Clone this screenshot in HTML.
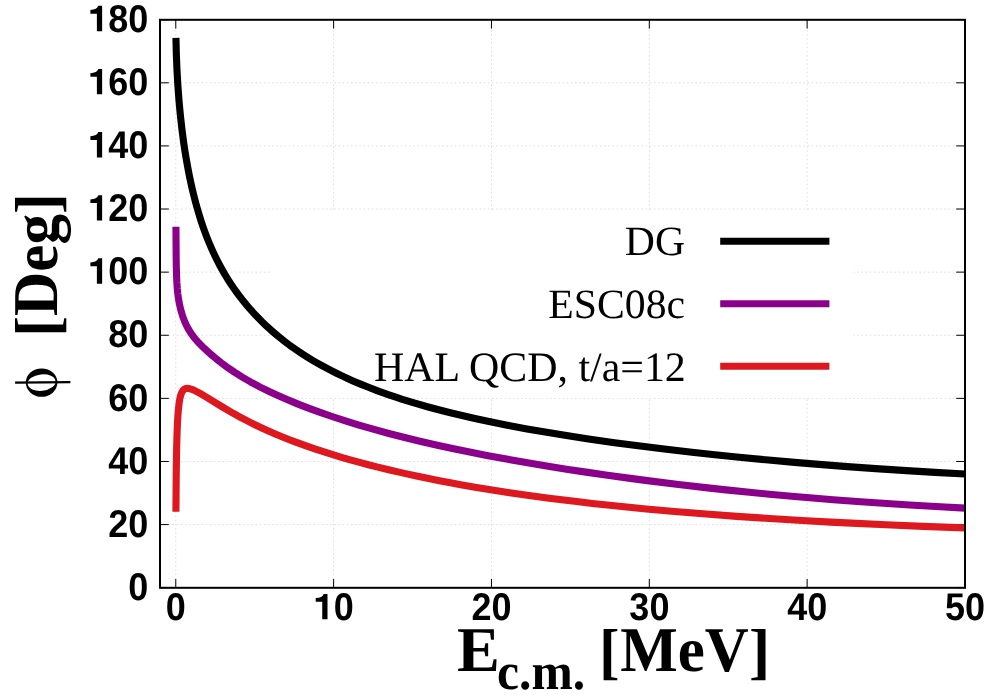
<!DOCTYPE html>
<html><head><meta charset="utf-8"><title>phase shift</title>
<style>
html,body{margin:0;padding:0;background:#fff;}
body{width:1000px;height:700px;overflow:hidden;font-family:"Liberation Sans",sans-serif;}
svg{display:block;will-change:transform;}
text{text-rendering:geometricPrecision;}
.tk{font-family:"Liberation Sans",sans-serif;font-weight:bold;font-size:36px;fill:#000;}
.lg{font-family:"Liberation Serif",serif;font-size:41.7px;fill:#000;}
.ax{font-family:"Liberation Serif",serif;font-weight:bold;font-size:62px;fill:#000;}
.sb{font-family:"Liberation Serif",serif;font-weight:bold;font-size:50px;fill:#000;}
</style></head><body>
<svg width="1000" height="700" viewBox="0 0 1000 700">
<rect x="0" y="0" width="1000" height="700" fill="#ffffff"/>
<path d="M175.78 587.80 V19.80 M333.62 587.80 V19.80 M491.46 587.80 V19.80 M649.30 587.80 V19.80 M807.14 587.80 V19.80 M160.00 524.59 H965.00 M160.00 461.48 H965.00 M160.00 398.37 H965.00 M160.00 335.26 H965.00 M160.00 272.14 H965.00 M160.00 209.03 H965.00 M160.00 145.92 H965.00 M160.00 82.81 H965.00" fill="none" stroke="#e0e0e0" stroke-width="1" stroke-dasharray="1.7 2.45"/>
<rect x="270" y="209.9" width="583.6" height="188.1" fill="#ffffff"/>
<path d="M175.78 587.80 v-8.80 M175.78 19.80 v8.80 M333.62 587.80 v-8.80 M333.62 19.80 v8.80 M491.46 587.80 v-8.80 M491.46 19.80 v8.80 M649.30 587.80 v-8.80 M649.30 19.80 v8.80 M807.14 587.80 v-8.80 M807.14 19.80 v8.80 M964.98 587.80 v-8.80 M964.98 19.80 v8.80 M160.00 587.70 h8.80 M965.00 587.70 h-8.80 M160.00 524.59 h8.80 M965.00 524.59 h-8.80 M160.00 461.48 h8.80 M965.00 461.48 h-8.80 M160.00 398.37 h8.80 M965.00 398.37 h-8.80 M160.00 335.26 h8.80 M965.00 335.26 h-8.80 M160.00 272.14 h8.80 M965.00 272.14 h-8.80 M160.00 209.03 h8.80 M965.00 209.03 h-8.80 M160.00 145.92 h8.80 M965.00 145.92 h-8.80 M160.00 82.81 h8.80 M965.00 82.81 h-8.80 M160.00 19.70 h8.80 M965.00 19.70 h-8.80" fill="none" stroke="#000" stroke-width="1"/>
<path d="M175.94 37.94 L176.32 53.60 L176.92 68.68 L177.78 84.11 L178.94 99.91 L180.40 115.66 L182.01 129.95 L183.67 142.49 L184.93 150.97 L185.88 156.85 L188.17 169.69 L189.35 175.70 L190.85 182.82 L192.27 189.11 L193.69 195.01 L195.19 200.88 L196.69 206.41 L199.53 216.08 L201.03 220.81 L203.24 227.37 L204.74 231.57 L206.87 237.22 L209.08 242.72 L211.29 247.91 L213.42 252.63 L215.63 257.27 L217.84 261.68 L220.13 266.02 L222.18 269.74 L224.71 274.11 L227.87 279.29 L230.23 282.98 L233.39 287.68 L236.55 292.14 L238.92 295.35 L242.07 299.46 L246.02 304.34 L249.96 308.97 L255.49 315.06 L261.80 321.53 L265.75 325.33 L269.69 328.96 L272.85 331.76 L277.59 335.78 L280.74 338.35 L284.69 341.45 L289.42 345.01 L294.16 348.41 L302.05 353.75 L307.58 357.27 L311.52 359.68 L316.26 362.47 L320.99 365.15 L325.73 367.73 L330.46 370.21 L335.99 373.00 L341.51 375.67 L348.61 378.95 L354.14 381.39 L361.24 384.39 L365.98 386.31 L377.03 390.57 L388.07 394.54 L394.39 396.69 L402.28 399.27 L414.91 403.16 L429.11 407.22 L442.53 410.79 L450.42 412.78 L459.89 415.07 L474.89 418.50 L489.09 421.55 L507.24 425.20 L526.97 428.89 L546.70 432.33 L568.01 435.80 L588.53 438.93 L614.58 442.64 L638.25 445.79 L664.29 449.04 L691.92 452.26 L714.80 454.76 L739.27 457.27 L768.47 460.06 L794.51 462.37 L822.13 464.65 L847.39 466.59 L875.80 468.62 L902.63 470.40 L934.99 472.38 L964.98 474.06" fill="none" stroke="#000000" stroke-width="7.1" stroke-linejoin="round" stroke-linecap="butt"/>
<path d="M175.94 226.66 L176.17 258.19 L176.32 266.92 L176.58 276.13 L176.88 282.68 L177.33 289.07 L177.82 293.87 L178.49 298.75 L179.54 304.51 L180.75 309.69 L182.25 314.86 L183.04 317.20 L184.22 320.34 L185.09 322.42 L186.43 325.32 L188.64 329.48 L191.01 333.27 L192.35 335.18 L193.69 336.95 L195.35 338.99 L197.40 341.34 L199.69 343.79 L202.61 346.72 L205.45 349.42 L208.37 352.08 L212.00 355.27 L215.71 358.39 L221.47 362.97 L224.71 365.41 L228.66 368.26 L234.97 372.55 L239.71 375.57 L242.86 377.49 L250.75 382.04 L254.70 384.19 L260.22 387.08 L269.69 391.75 L276.80 395.05 L287.06 399.55 L295.74 403.15 L301.26 405.35 L309.15 408.38 L319.41 412.14 L332.04 416.52 L344.67 420.65 L358.09 424.79 L372.29 428.93 L388.86 433.47 L404.65 437.53 L418.85 440.99 L436.22 444.99 L453.58 448.76 L470.94 452.33 L486.72 455.42 L506.45 459.09 L524.61 462.30 L545.13 465.75 L566.43 469.15 L587.74 472.38 L607.47 475.23 L630.36 478.38 L649.30 480.87 L678.50 484.51 L707.70 487.90 L725.85 489.88 L749.53 492.32 L769.26 494.23 L794.51 496.52 L812.66 498.06 L833.18 499.71 L860.81 501.77 L886.85 503.56 L909.74 505.02 L935.78 506.56 L964.98 508.14" fill="none" stroke="#8b008b" stroke-width="7.1" stroke-linejoin="round" stroke-linecap="butt"/>
<path d="M175.94 511.84 L176.21 475.49 L176.47 456.89 L176.73 444.35 L177.07 432.81 L177.48 423.00 L177.93 415.33 L178.42 409.25 L179.09 403.33 L179.73 399.37 L180.10 397.59 L180.59 395.66 L181.07 394.16 L181.54 392.94 L182.09 391.80 L182.72 390.79 L183.28 390.10 L183.91 389.50 L184.70 388.97 L185.49 388.63 L186.20 388.45 L187.54 388.36 L188.72 388.48 L189.43 388.62 L191.72 389.31 L194.72 390.57 L198.19 392.33 L200.96 393.87 L204.51 395.96 L222.26 406.89 L232.60 412.95 L240.49 417.31 L244.44 419.40 L250.75 422.63 L255.49 424.96 L261.80 427.95 L267.33 430.47 L275.22 433.91 L280.74 436.22 L289.42 439.69 L295.74 442.11 L307.58 446.40 L315.47 449.11 L322.57 451.45 L332.04 454.44 L341.51 457.29 L349.40 459.57 L359.66 462.41 L368.34 464.71 L377.82 467.12 L389.65 470.00 L396.76 471.66 L407.80 474.15 L416.49 476.03 L427.53 478.33 L439.37 480.69 L450.42 482.80 L460.68 484.68 L476.47 487.43 L487.51 489.26 L509.61 492.70 L532.50 495.98 L549.07 498.19 L561.70 499.79 L576.69 501.60 L592.48 503.41 L614.58 505.79 L646.14 508.91 L674.55 511.47 L706.12 514.06 L736.90 516.35 L769.26 518.53 L806.35 520.77 L830.82 522.11 L851.34 523.16 L886.06 524.79 L923.15 526.35 L964.98 527.91" fill="none" stroke="#dd181f" stroke-width="7.1" stroke-linejoin="round" stroke-linecap="butt"/>
<rect x="160.00" y="19.80" width="805.00" height="568.00" fill="none" stroke="#000" stroke-width="2"/>
<text class="tk" transform="translate(148.40 599.85) scale(1 1.075)" text-anchor="end">0</text>
<text class="tk" transform="translate(148.40 536.74) scale(1 1.075)" text-anchor="end">20</text>
<text class="tk" transform="translate(148.40 473.63) scale(1 1.075)" text-anchor="end">40</text>
<text class="tk" transform="translate(148.40 410.52) scale(1 1.075)" text-anchor="end">60</text>
<text class="tk" transform="translate(148.40 347.41) scale(1 1.075)" text-anchor="end">80</text>
<path transform="translate(88.34 283.64)" d="M8.55 0H13.8V-25.35H9.95Q8.8 -21.6 2.04 -21.15V-17.5H8.55Z"/><text class="tk" transform="translate(148.40 284.29) scale(1 1.075)" text-anchor="end">00</text>
<path transform="translate(88.34 220.53)" d="M8.55 0H13.8V-25.35H9.95Q8.8 -21.6 2.04 -21.15V-17.5H8.55Z"/><text class="tk" transform="translate(148.40 221.18) scale(1 1.075)" text-anchor="end">20</text>
<path transform="translate(88.34 157.42)" d="M8.55 0H13.8V-25.35H9.95Q8.8 -21.6 2.04 -21.15V-17.5H8.55Z"/><text class="tk" transform="translate(148.40 158.07) scale(1 1.075)" text-anchor="end">40</text>
<path transform="translate(88.34 94.31)" d="M8.55 0H13.8V-25.35H9.95Q8.8 -21.6 2.04 -21.15V-17.5H8.55Z"/><text class="tk" transform="translate(148.40 94.96) scale(1 1.075)" text-anchor="end">60</text>
<path transform="translate(88.34 31.20)" d="M8.55 0H13.8V-25.35H9.95Q8.8 -21.6 2.04 -21.15V-17.5H8.55Z"/><text class="tk" transform="translate(148.40 31.85) scale(1 1.075)" text-anchor="end">80</text>
<text class="tk" transform="translate(185.89 619.90) scale(1 1.075)" text-anchor="end">0</text>
<path transform="translate(313.70 619.25)" d="M8.55 0H13.8V-25.35H9.95Q8.8 -21.6 2.04 -21.15V-17.5H8.55Z"/><text class="tk" transform="translate(353.74 619.90) scale(1 1.075)" text-anchor="end">0</text>
<text class="tk" transform="translate(511.58 619.90) scale(1 1.075)" text-anchor="end">20</text>
<text class="tk" transform="translate(669.42 619.90) scale(1 1.075)" text-anchor="end">30</text>
<text class="tk" transform="translate(827.26 619.90) scale(1 1.075)" text-anchor="end">40</text>
<text class="tk" transform="translate(985.10 619.90) scale(1 1.075)" text-anchor="end">50</text>
<text class="lg" style="font-size:41.7px" x="685.00" y="255.30" text-anchor="end">DG</text>
<path d="M720.2 241.30 H829.4" stroke="#000000" stroke-width="7.0" fill="none"/>
<text class="lg" style="font-size:41.7px" x="685.00" y="318.00" text-anchor="end">ESC08c</text>
<path d="M720.2 303.80 H829.4" stroke="#8b008b" stroke-width="7.0" fill="none"/>
<text class="lg" style="font-size:41.9px" x="685.80" y="381.10" text-anchor="end">HAL QCD, t/a=12</text>
<path d="M720.2 366.30 H829.4" stroke="#dd181f" stroke-width="7.0" fill="none"/>
<text class="ax" transform="translate(456.88 670.70) scale(1.0359 1.03)">E</text>
<text class="sb" transform="translate(497.09 689.00) scale(0.9910 1.04)">c.m.</text>
<text class="ax" transform="translate(599.11 671.60) scale(0.9942 1)">[</text>
<text class="ax" transform="translate(620.14 670.70) scale(0.9829 1.03)">MeV</text>
<text class="ax" transform="translate(748.88 671.60) scale(1.0290 1)">]</text>
<text class="ax" transform="translate(58.10 336.93) rotate(-90) scale(1.0232 1)">[</text>
<text class="ax" transform="translate(57.00 316.00) rotate(-90) scale(0.9887 1.03)">Deg</text>
<text class="ax" transform="translate(58.10 213.97) rotate(-90) scale(1.0072 1)">]</text>
<g transform="translate(41.6 382.6)"><path fill="#000" fill-rule="evenodd" d="M-15.8 0A15.8 14.2 0 1 0 15.8 0A15.8 14.2 0 1 0 -15.8 0Z"/><ellipse cx="0" cy="0" rx="14.0" ry="8.2" transform="rotate(-6)" fill="#fff"/><path d="M-26.5 0.1 L28.8 -0.4" stroke="#000" stroke-width="2.2" fill="none"/></g>
</svg></body></html>
